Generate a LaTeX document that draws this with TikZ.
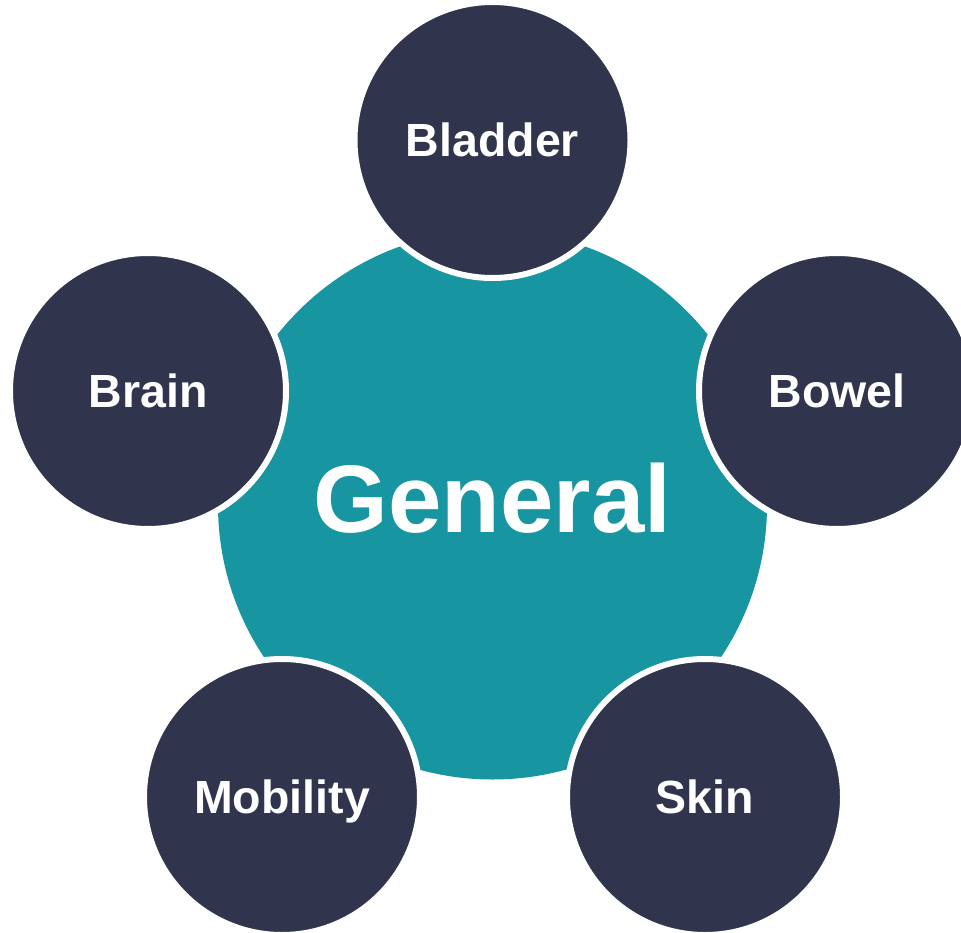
\documentclass[tikz,border=0pt]{standalone}
\usepackage{fontspec}
\setmainfont{Liberation Sans}
\usepackage{tikz}
\definecolor{hubteal}{RGB}{23,149,161}
\definecolor{spokenavy}{RGB}{48,53,77}
\tikzstyle{hub}=[circle,fill=hubteal,minimum size=549pt,inner sep=0pt,text=white,text depth=14pt,font=\bfseries\fontsize{96}{110}\selectfont]
\tikzstyle{spoke}=[circle,fill=spokenavy,draw=white,line width=6pt,minimum size=276pt,inner sep=0pt,text=white,text depth=0pt,font=\bfseries\fontsize{46.5}{56}\selectfont]

\begin{document}
\begin{tikzpicture}[x=1pt,y=-1pt]
        \useasboundingbox (0,0) rectangle (961,933);
        \node[hub] (general) at (492.5,505) {General};
        \node[spoke] (bladder) at (492.5,140) {Bladder};
        \node[spoke] (bowel) at (837,391) {Bowel};
        \node[spoke] (skin) at (705,797) {Skin};
        \node[spoke] (mobility) at (282,797) {Mobility};
        \node[spoke] (brain) at (148,391) {Brain};
      \end{tikzpicture}
\end{document}
